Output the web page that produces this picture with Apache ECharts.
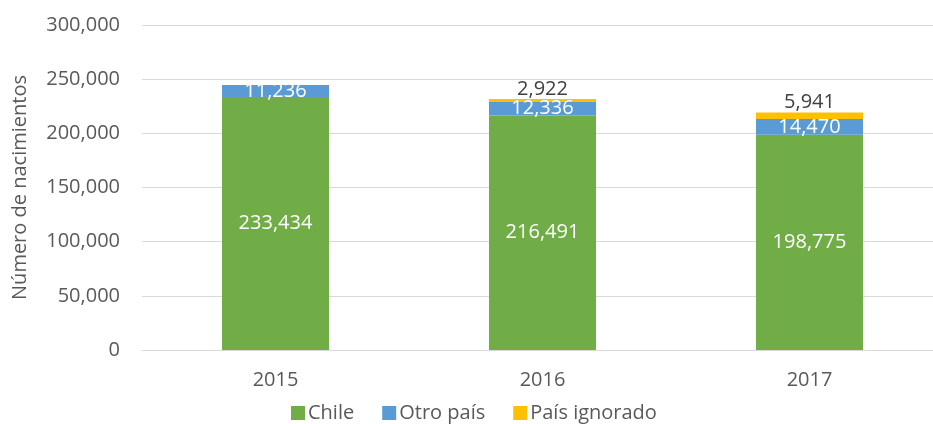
<!DOCTYPE html>
<html>
<head>
<meta charset="utf-8">
<script src="https://cdn.jsdelivr.net/npm/echarts@6/dist/echarts.min.js"></script>
<style>
  html, body { margin: 0; padding: 0; background: #fff; }
  #main { width: 933px; height: 424px; }
</style>
</head>
<body>
<div id="main"></div>
<script>
var years = ['2015', '2016', '2017'];
var chile = [233434, 216491, 198775];
var otroPais = [11236, 12336, 14470];
var paisIgnorado = [null, 2922, 5941];

var myChart = echarts.init(document.getElementById('main'));
var fmt = function (p) { return p.value == null ? '' : p.value.toLocaleString('en-US'); };
var font = 'Open Sans';

var option = {
  animation: false,
  textStyle: { fontFamily: font },
  grid: { left: 142, top: 25, width: 801, height: 325, outerBoundsMode: 'none' },
  legend: {
    data: ['Chile', 'Otro país', 'País ignorado'],
    top: 398,
    left: 286,
    itemWidth: 14,
    itemHeight: 14,
    itemGap: 28,
    icon: 'rect',
    textStyle: { color: '#595959', fontSize: 20, fontFamily: font, padding: [0, 0, 0, -2] }
  },
  xAxis: {
    type: 'category',
    data: years,
    axisLine: { lineStyle: { color: '#d9d9d9', width: 1 } },
    axisTick: { show: false },
    axisLabel: { color: '#595959', fontSize: 20, margin: 20 }
  },
  yAxis: {
    type: 'value',
    min: 0,
    max: 300000,
    interval: 50000,
    name: 'Número de nacimientos',
    nameLocation: 'middle',
    nameGap: 112,
    nameTextStyle: { color: '#595959', fontSize: 20 },
    axisLine: { show: false },
    axisTick: { show: false },
    splitLine: { lineStyle: { color: '#d9d9d9' } },
    axisLabel: {
      color: '#595959', fontSize: 20, margin: 22,
      formatter: function (v) { return v.toLocaleString('en-US'); }
    }
  },
  series: [
    {
      name: 'Chile', type: 'bar', stack: 'total', barWidth: 107,
      itemStyle: { color: '#70AD47' },
      label: { show: true, position: 'inside', color: '#fff', fontSize: 20, formatter: fmt },
      data: chile
    },
    {
      name: 'Otro país', type: 'bar', stack: 'total',
      itemStyle: { color: '#5B9BD5' },
      label: { show: true, position: 'inside', color: '#fff', fontSize: 20, formatter: fmt },
      data: otroPais
    },
    {
      name: 'País ignorado', type: 'bar', stack: 'total',
      itemStyle: { color: '#FFC000' },
      label: { show: true, position: 'top', distance: 0, color: '#404040', fontSize: 20, formatter: fmt },
      data: paisIgnorado
    }
  ]
};
myChart.setOption(option);
</script>
</body>
</html>
